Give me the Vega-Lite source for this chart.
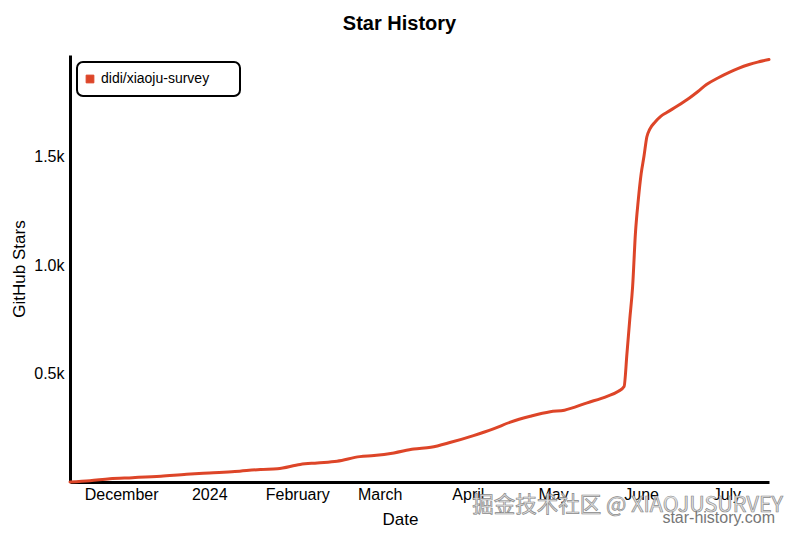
{
  "$schema": "https://vega.github.io/schema/vega-lite/v6.json",
  "width": 699,
  "height": 427,
  "autosize": {"type": "none"},
  "padding": {"left": 70, "top": 55, "right": 31, "bottom": 51},
  "background": "white",
  "title": {
    "text": "Star History",
    "font": "Liberation Sans",
    "fontSize": 20,
    "fontWeight": "bold",
    "color": "black",
    "anchor": "middle",
    "dx": -20,
    "offset": 20
  },
  "config": {
    "view": {"stroke": null},
    "font": "Liberation Sans"
  },
  "datasets": {
    "stars": [
      {"date": "2023-11-13", "stars": 0, "repo": "didi/xiaoju-survey"},
      {"date": "2023-11-20", "stars": 6, "repo": "didi/xiaoju-survey"},
      {"date": "2023-11-27", "stars": 15, "repo": "didi/xiaoju-survey"},
      {"date": "2023-12-05", "stars": 20, "repo": "didi/xiaoju-survey"},
      {"date": "2023-12-15", "stars": 27, "repo": "didi/xiaoju-survey"},
      {"date": "2023-12-24", "stars": 36, "repo": "didi/xiaoju-survey"},
      {"date": "2024-01-01", "stars": 42, "repo": "didi/xiaoju-survey"},
      {"date": "2024-01-10", "stars": 48, "repo": "didi/xiaoju-survey"},
      {"date": "2024-01-19", "stars": 58, "repo": "didi/xiaoju-survey"},
      {"date": "2024-01-25", "stars": 61, "repo": "didi/xiaoju-survey"},
      {"date": "2024-02-02", "stars": 81, "repo": "didi/xiaoju-survey"},
      {"date": "2024-02-08", "stars": 88, "repo": "didi/xiaoju-survey"},
      {"date": "2024-02-15", "stars": 96, "repo": "didi/xiaoju-survey"},
      {"date": "2024-02-23", "stars": 117, "repo": "didi/xiaoju-survey"},
      {"date": "2024-02-28", "stars": 122, "repo": "didi/xiaoju-survey"},
      {"date": "2024-03-06", "stars": 134, "repo": "didi/xiaoju-survey"},
      {"date": "2024-03-13", "stars": 152, "repo": "didi/xiaoju-survey"},
      {"date": "2024-03-19", "stars": 160, "repo": "didi/xiaoju-survey"},
      {"date": "2024-03-26", "stars": 183, "repo": "didi/xiaoju-survey"},
      {"date": "2024-04-03", "stars": 214, "repo": "didi/xiaoju-survey"},
      {"date": "2024-04-10", "stars": 245, "repo": "didi/xiaoju-survey"},
      {"date": "2024-04-16", "stars": 276, "repo": "didi/xiaoju-survey"},
      {"date": "2024-04-23", "stars": 303, "repo": "didi/xiaoju-survey"},
      {"date": "2024-04-30", "stars": 324, "repo": "didi/xiaoju-survey"},
      {"date": "2024-05-05", "stars": 331, "repo": "didi/xiaoju-survey"},
      {"date": "2024-05-13", "stars": 365, "repo": "didi/xiaoju-survey"},
      {"date": "2024-05-20", "stars": 395, "repo": "didi/xiaoju-survey"},
      {"date": "2024-05-24", "stars": 418, "repo": "didi/xiaoju-survey"},
      {"date": "2024-05-26", "stars": 440, "repo": "didi/xiaoju-survey"},
      {"date": "2024-05-27", "stars": 590, "repo": "didi/xiaoju-survey"},
      {"date": "2024-05-28", "stars": 750, "repo": "didi/xiaoju-survey"},
      {"date": "2024-05-29", "stars": 900, "repo": "didi/xiaoju-survey"},
      {"date": "2024-05-30", "stars": 1148, "repo": "didi/xiaoju-survey"},
      {"date": "2024-05-31", "stars": 1300, "repo": "didi/xiaoju-survey"},
      {"date": "2024-06-01", "stars": 1420, "repo": "didi/xiaoju-survey"},
      {"date": "2024-06-02", "stars": 1501, "repo": "didi/xiaoju-survey"},
      {"date": "2024-06-03", "stars": 1590, "repo": "didi/xiaoju-survey"},
      {"date": "2024-06-04", "stars": 1625, "repo": "didi/xiaoju-survey"},
      {"date": "2024-06-06", "stars": 1660, "repo": "didi/xiaoju-survey"},
      {"date": "2024-06-08", "stars": 1686, "repo": "didi/xiaoju-survey"},
      {"date": "2024-06-10", "stars": 1703, "repo": "didi/xiaoju-survey"},
      {"date": "2024-06-14", "stars": 1735, "repo": "didi/xiaoju-survey"},
      {"date": "2024-06-18", "stars": 1770, "repo": "didi/xiaoju-survey"},
      {"date": "2024-06-21", "stars": 1800, "repo": "didi/xiaoju-survey"},
      {"date": "2024-06-24", "stars": 1832, "repo": "didi/xiaoju-survey"},
      {"date": "2024-06-28", "stars": 1862, "repo": "didi/xiaoju-survey"},
      {"date": "2024-07-02", "stars": 1888, "repo": "didi/xiaoju-survey"},
      {"date": "2024-07-05", "stars": 1905, "repo": "didi/xiaoju-survey"},
      {"date": "2024-07-09", "stars": 1924, "repo": "didi/xiaoju-survey"},
      {"date": "2024-07-12", "stars": 1935, "repo": "didi/xiaoju-survey"},
      {"date": "2024-07-16", "stars": 1947, "repo": "didi/xiaoju-survey"}
    ],
    "notes": [
      {"label": "掘金技术社区 @ XIAOJUSURVEY"}
    ],
    "site": [
      {"label": "star-history.com"}
    ]
  },
  "layer": [
    {
      "data": {"name": "stars"},
      "mark": {"type": "line", "strokeWidth": 3, "interpolate": "monotone", "strokeCap": "round"},
      "encoding": {
        "x": {
          "field": "date",
          "type": "temporal",
          "scale": {"domain": ["2023-11-13", "2024-07-16"], "nice": false},
          "axis": {
            "title": "Date",
            "titleFont": "Liberation Sans",
            "titleFontSize": 17,
            "titleFontWeight": "normal",
            "titleColor": "black",
            "titleX": 330,
            "titlePadding": 9,
            "labelFont": "Liberation Sans",
            "labelFontSize": 16,
            "labelColor": "black",
            "labelPadding": 4,
            "labelFlush": false,
            "labelOverlap": false,
            "tickCount": {"interval": "month", "step": 1},
            "ticks": false,
            "grid": false,
            "domainColor": "black",
            "domainWidth": 3
          }
        },
        "y": {
          "field": "stars",
          "type": "quantitative",
          "scale": {"domain": [0, 1968], "nice": false},
          "axis": {
            "title": "GitHub Stars",
            "titleFont": "Liberation Sans",
            "titleFontSize": 17,
            "titleFontWeight": "normal",
            "titleColor": "black",
            "titlePadding": 5,
            "labelFont": "Liberation Sans",
            "labelFontSize": 16,
            "labelColor": "black",
            "labelPadding": 6,
            "values": [500, 1000, 1500],
            "labelExpr": "format(datum.value / 1000, '.1f') + 'k'",
            "ticks": false,
            "grid": false,
            "domainColor": "black",
            "domainWidth": 3
          }
        },
        "color": {
          "field": "repo",
          "type": "nominal",
          "scale": {"range": ["#dd4528"]},
          "legend": {
            "title": null,
            "orient": "top-left",
            "offset": 7,
            "strokeColor": "black",
            "cornerRadius": 6,
            "fillColor": "white",
            "padding": 10,
            "symbolType": "square",
            "symbolSize": 60,
            "symbolOffset": -4,
            "labelOffset": 4,
            "labelFont": "Liberation Sans",
            "labelFontSize": 14,
            "labelColor": "black",
            "labelLimit": 300,
            "labelExpr": "datum.label + '\u2800\u2800'",
            "encode": {
              "legend": {"update": {"strokeWidth": {"value": 2}}},
              "symbols": {"update": {"fill": {"value": "#dd4528"}, "stroke": {"value": "#dd4528"}, "strokeWidth": {"value": 1}}}
            }
          }
        }
      }
    },
    {
      "data": {"name": "notes"},
      "mark": {
        "type": "text",
        "align": "right",
        "baseline": "middle",
        "dx": 14,
        "dy": 24,
        "font": "Noto Sans CJK SC",
        "fontSize": 21.5,
        "fill": "#e4e4e4",
        "stroke": "#8a8a8a",
        "strokeWidth": 0.7,
        "clip": false
      },
      "encoding": {
        "x": {"datum": {"expr": "datetime(2024, 6, 16)"}, "type": "temporal"},
        "y": {"datum": 0, "type": "quantitative"},
        "text": {"field": "label"}
      }
    },
    {
      "data": {"name": "site"},
      "mark": {
        "type": "text",
        "align": "right",
        "baseline": "middle",
        "dx": 6,
        "dy": 36,
        "font": "Liberation Sans",
        "fontSize": 16,
        "fill": "#777777",
        "clip": false
      },
      "encoding": {
        "x": {"datum": {"expr": "datetime(2024, 6, 16)"}, "type": "temporal"},
        "y": {"datum": 0, "type": "quantitative"},
        "text": {"field": "label"}
      }
    }
  ]
}
